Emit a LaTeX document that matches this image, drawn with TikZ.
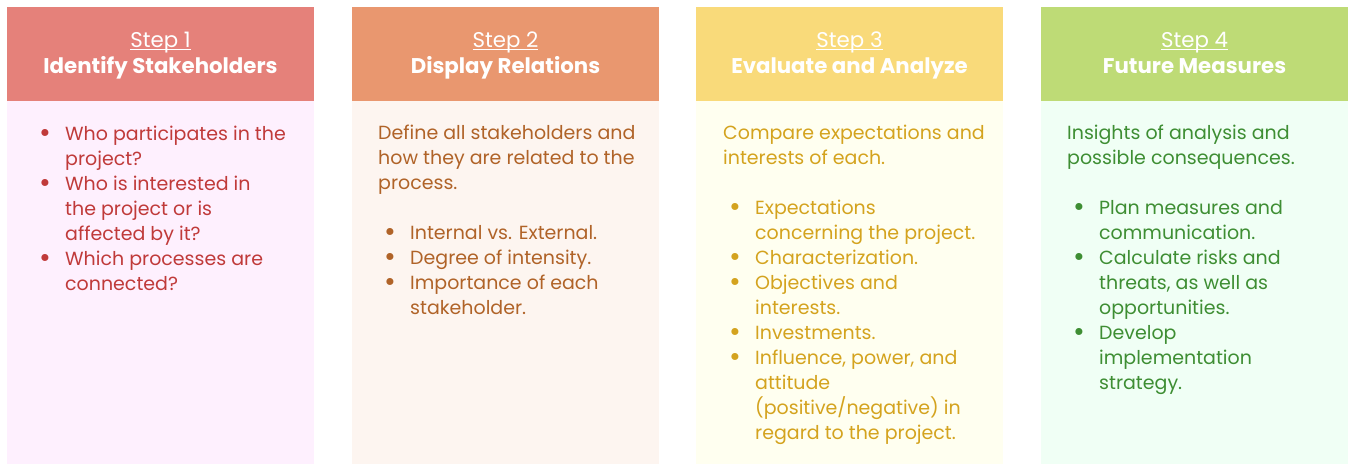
\documentclass[tikz,border=0pt]{standalone}
\usepackage{fontspec}
\setmainfont{Poppins}
\newfontfamily\bodyf{Poppins}
\definecolor{hA}{HTML}{E5817A}
\definecolor{hB}{HTML}{E9976F}
\definecolor{hC}{HTML}{F9DA7A}
\definecolor{hD}{HTML}{BEDB76}
\definecolor{bA}{HTML}{FEF0FE}
\definecolor{bB}{HTML}{FDF5F0}
\definecolor{bC}{HTML}{FFFFF0}
\definecolor{bD}{HTML}{F0FFF5}
\definecolor{tA}{HTML}{C03A3A}
\definecolor{tB}{HTML}{B06328}
\definecolor{tC}{HTML}{D4A31E}
\definecolor{tD}{HTML}{3E8E33}
\newcommand\stepul[1]{\setbox0\hbox{#1}\rlap{\rule[-3pt]{\wd0}{0.9pt}}\box0}
\newcommand\B{\makebox[32pt][l]{\hspace{6pt}\raisebox{-2.5pt}{\scalebox{1.5}{\textbullet}}}}
\newcommand\C{\makebox[32pt][l]{}}
\tikzset{
  head/.style={fill=#1, draw=none, minimum width=307pt, minimum height=94pt, inner sep=0pt, anchor=north west},
  bodybox/.style={fill=#1, draw=none, minimum width=307pt, minimum height=363pt, inner sep=0pt, anchor=north west},
  steplbl/.style={text=white, font=\fontsize{21.3}{24}\selectfont, anchor=base, inner sep=0pt},
  titlelbl/.style={text=white, font=\bfseries\fontsize{21.3}{24}\selectfont, anchor=base, inner sep=0pt},
  bodytxt/.style={text=#1, font=\bodyf\fontsize{19}{25}\selectfont, align=left, anchor=base west, inner sep=0pt},
}
\begin{document}
\begin{tikzpicture}[x=1pt,y=-1pt]
\useasboundingbox (0,0) rectangle (1349,464);
% column 1
\node[head=hA] (h1) at (7,7) {};
\node[bodybox=bA] (b1) at (7,101) {};
\node[steplbl] (s1) at (160.5,47) {\stepul{Step 1}};
\node[titlelbl] (t1) at (160.5,73) {Identify Stakeholders};
\node[bodytxt=tA] (x1) at (33,290) {\B Who participates in the\\ \C project?\\ \B Who is interested in\\ \C the project or is\\ \C affected by it?\\ \B Which processes are\\ \C connected?};
% column 2
\node[head=hB] (h2) at (352,7) {};
\node[bodybox=bB] (b2) at (352,101) {};
\node[steplbl] (s2) at (505.5,47) {\stepul{Step 2}};
\node[titlelbl] (t2) at (505.5,73) {Display Relations};
\node[bodytxt=tB] (x2) at (378,314) {Define all stakeholders and\\ how they are related to the\\ process.\\[25pt] \B Internal vs. External.\\ \B Degree of intensity.\\ \B Importance of each\\ \C stakeholder.};
% column 3
\node[head=hC] (h3) at (696,7) {};
\node[bodybox=bC] (b3) at (696,101) {};
\node[steplbl] (s3) at (849.5,47) {\stepul{Step 3}};
\node[titlelbl] (t3) at (849.5,73) {Evaluate and Analyze};
\node[bodytxt=tC] (x3) at (723,439) {Compare expectations and\\ interests of each.\\[25pt] \B Expectations\\ \C concerning the project.\\ \B Characterization.\\ \B Objectives and\\ \C interests.\\ \B Investments.\\ \B Influence, power, and\\ \C attitude\\ \C (positive/negative) in\\ \C regard to the project.};
% column 4
\node[head=hD] (h4) at (1041,7) {};
\node[bodybox=bD] (b4) at (1041,101) {};
\node[steplbl] (s4) at (1194.5,47) {\stepul{Step 4}};
\node[titlelbl] (t4) at (1194.5,73) {Future Measures};
\node[bodytxt=tD] (x4) at (1067,389) {Insights of analysis and\\ possible consequences.\\[25pt] \B Plan measures and\\ \C communication.\\ \B Calculate risks and\\ \C threats, as well as\\ \C opportunities.\\ \B Develop\\ \C implementation\\ \C strategy.};
\end{tikzpicture}
\end{document}
